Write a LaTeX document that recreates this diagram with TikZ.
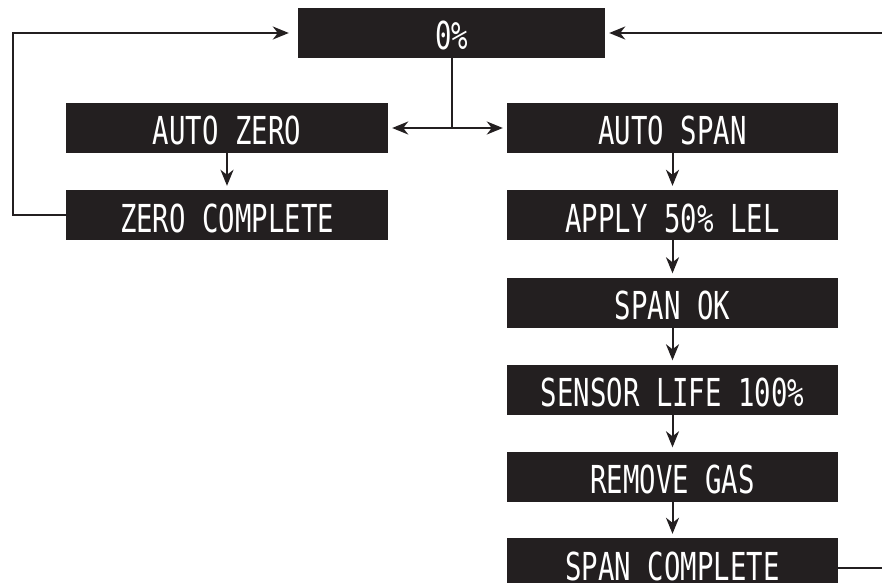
\documentclass[tikz,border=0pt]{standalone}
\usepackage{fontspec}
\usepackage{tikz}
\usetikzlibrary{arrows.meta}
\newfontfamily\lcdfont[FakeStretch=0.71]{DejaVu Sans Mono}
\definecolor{lcdblack}{RGB}{35,31,32}
\tikzset{
  lcdbox/.style={fill=lcdblack, text=white, inner sep=0pt, minimum height=50pt,
    text height=34pt, text depth=0pt, font=\lcdfont\fontsize{38.5}{38.5}\selectfont},
  flow/.style={line width=2pt, draw=lcdblack},
  arr/.style={flow, -{Stealth[length=16pt,width=13pt,inset=5pt]}, shorten >=4pt}
}
\begin{document}
\begin{tikzpicture}[x=1pt, y=1pt]
	\useasboundingbox (0,0) rectangle (882,582);
	\clip (0,0) rectangle (882,582);
	% display boxes
	\node[lcdbox, minimum width=307pt] (zero) at (451.5, 549) {0\%};
	\node[lcdbox, minimum width=322pt] (autozero) at (227, 454) {AUTO ZERO};
	\node[lcdbox, minimum width=322pt] (zerocomplete) at (227, 367) {ZERO COMPLETE};
	\node[lcdbox, minimum width=331pt] (autospan) at (672.5, 454) {AUTO SPAN};
	\node[lcdbox, minimum width=331pt] (apply) at (672.5, 367) {APPLY 50\% LEL};
	\node[lcdbox, minimum width=331pt] (spanok) at (672.5, 279.5) {SPAN OK};
	\node[lcdbox, minimum width=331pt] (sensorlife) at (672.5, 192.5) {SENSOR LIFE 100\%};
	\node[lcdbox, minimum width=331pt] (removegas) at (672.5, 105.5) {REMOVE GAS};
	\node[lcdbox, minimum width=331pt] (spancomplete) at (672.5, 19) {SPAN COMPLETE};
	% split below 0%
	\coordinate (split) at (zero.south |- autozero.east);
	\draw[flow] (zero.south) -- (split);
	\draw[arr] (split) -- (autozero.east);
	\draw[arr] (split) -- (autospan.west);
	% zero branch
	\draw[arr] (autozero.south) -- (zerocomplete.north);
	\draw[arr, shorten >=9pt] (zerocomplete.west) -- (13, 367) -- (13, 549) -- (zero.west);
	% span branch
	\draw[arr] (autospan.south) -- (apply.north);
	\draw[arr] (apply.south) -- (spanok.north);
	\draw[arr] (spanok.south) -- (sensorlife.north);
	\draw[arr] (sensorlife.south) -- (removegas.north);
	\draw[arr] (removegas.south) -- (spancomplete.north);
	\coordinate (loopout) at ([yshift=-5pt]spancomplete.east);
	\draw[arr] (loopout) -- (892, 14) -- (892, 549) -- (zero.east);
\end{tikzpicture}
\end{document}
